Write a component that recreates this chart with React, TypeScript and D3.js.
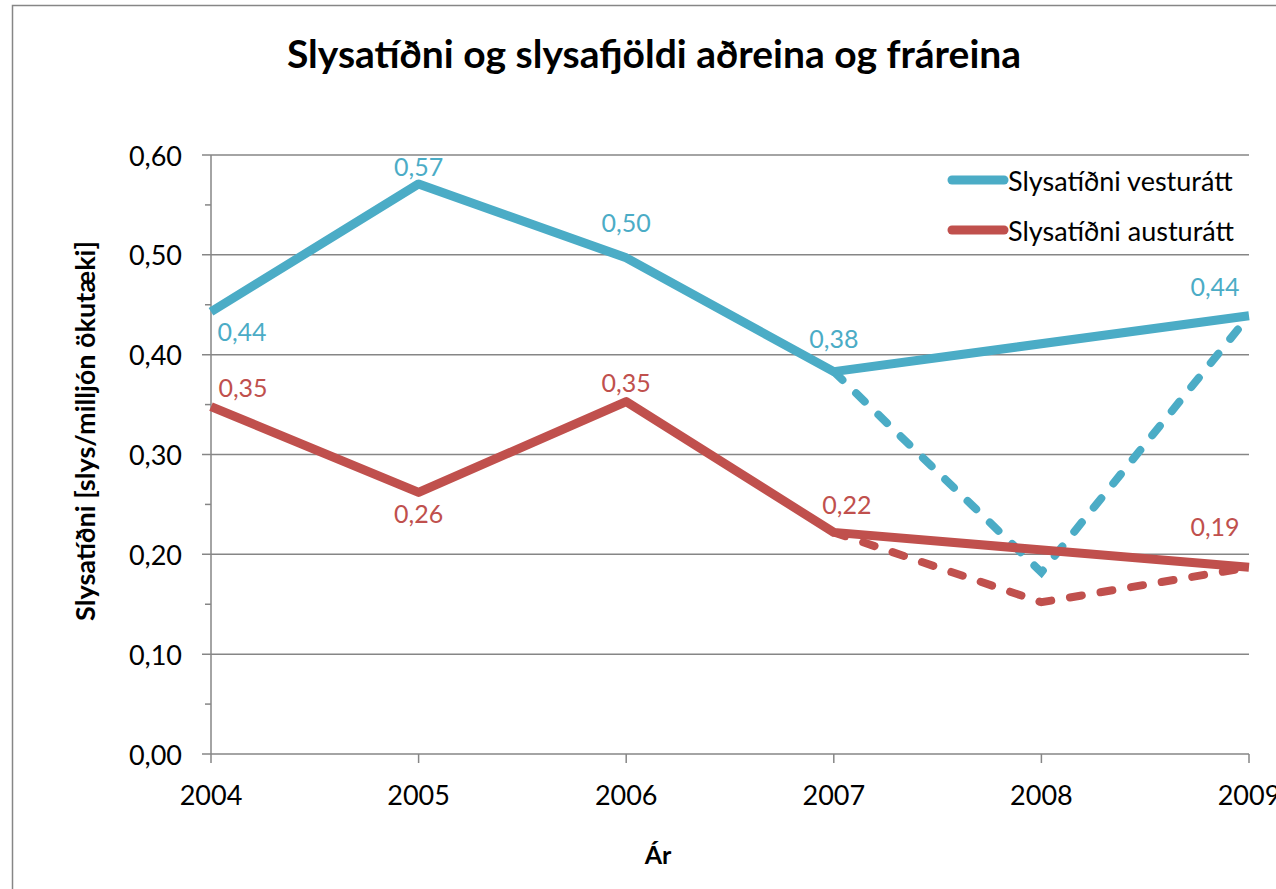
import * as d3 from "d3";

const years = [2004, 2005, 2006, 2007, 2008, 2009];
// solid lines skip 2008, dashed lines go through it
const westSolid = [0.443, 0.571, 0.497, 0.383, null, 0.439];
const westDashed = [null, null, null, 0.383, 0.182, 0.439];
const eastSolid = [0.348, 0.262, 0.353, 0.222, null, 0.187];
const eastDashed = [null, null, null, 0.222, 0.152, 0.187];
const yTicks = [0, 0.1, 0.2, 0.3, 0.4, 0.5, 0.6];
const seriesNames = ["Slysatíðni vesturátt", "Slysatíðni austurátt"];

// label offsets from the point (px)
const westLabelPos = [[31, 19], [0, -18], [0, -36], [0, -34], null, [-34, -30]];
const eastLabelPos = [[32, -20], [0, 21], [0, -20], [13, -28], null, [-34, -41]];

const BLUE = "#4BACC6";
const RED = "#C0504D";
const GRID = "#868686";
const FONT = "Lato, 'Open Sans', sans-serif";

const W = 1276;
const H = 889;

const fmt = (v: number) => d3.format(".2f")(v).replace(".", ",");

export default function App() {
  const x = d3.scaleLinear().domain([2004, 2009]).range([211, 1249]);
  const y = d3.scaleLinear().domain([0, 0.6]).range([754, 155]);

  const line = (vals: (number | null)[]) => {
    const pts = years
      .map((yr, i) => [yr, vals[i]] as [number, number | null])
      .filter((d) => d[1] != null) as [number, number][];
    return d3
      .line<[number, number]>()
      .x((d) => x(d[0]))
      .y((d) => y(d[1]))(pts) ?? "";
  };

  const minorTicks = d3.range(0.05, 0.6, 0.1);

  const labels = (vals: (number | null)[], pos: (number[] | null)[], color: string) =>
    years.map((yr, i) => {
      const v = vals[i];
      const p = pos[i];
      if (v == null || !p) return null;
      return (
        <text
          key={`${color}-${yr}`}
          x={x(yr) + p[0]}
          y={y(v) + p[1]}
          textAnchor="middle"
          dominantBaseline="central"
          fontSize={25}
          fill={color}
        >
          {fmt(v)}
        </text>
      );
    });

  return (
    <svg
      width={W}
      height={H}
      style={{ position: "absolute", left: 0, top: 0, background: "#fff" }}
      fontFamily={FONT}
    >
      <rect x={0} y={0} width={W} height={H} fill="#fff" />
      <rect x={12.5} y={5.5} width={1400} height={1000} fill="none" stroke={GRID} strokeWidth={1.5} />

      <text x={654} y={68} textAnchor="middle" fontSize={39} fontWeight="bold" fill="#000">
        Slysatíðni og slysafjöldi aðreina og fráreina
      </text>

      {/* gridlines + y ticks */}
      {yTicks.map((t) => (
        <g key={t}>
          <line x1={202} x2={1249} y1={y(t)} y2={y(t)} stroke={GRID} strokeWidth={1.5} />
          <text
            x={182}
            y={y(t)}
            textAnchor="end"
            dominantBaseline="central"
            fontSize={27}
            fill="#000"
          >
            {fmt(t)}
          </text>
        </g>
      ))}
      {minorTicks.map((t) => (
        <line key={t} x1={205} x2={211} y1={y(t)} y2={y(t)} stroke={GRID} strokeWidth={1.5} />
      ))}
      <line x1={211} x2={211} y1={155} y2={754} stroke={GRID} strokeWidth={1.5} />

      {/* x ticks */}
      {years.map((yr) => (
        <g key={yr}>
          <line x1={x(yr)} x2={x(yr)} y1={754} y2={763} stroke={GRID} strokeWidth={1.5} />
          <text x={x(yr)} y={805} textAnchor="middle" fontSize={27} fill="#000">
            {yr}
          </text>
        </g>
      ))}

      <text x={658} y={864} textAnchor="middle" fontSize={25} fontWeight="bold" fill="#000">
        Ár
      </text>
      <text
        transform={`translate(84,431) rotate(-90)`}
        textAnchor="middle"
        dominantBaseline="central"
        fontSize={27}
        fontWeight="bold"
        fill="#000"
      >
        Slysatíðni [slys/milljón ökutæki]
      </text>

      {/* lines */}
      <path d={line(westDashed)} fill="none" stroke={BLUE} strokeWidth={8} strokeDasharray="12 19" strokeLinecap="round" />
      <path d={line(eastDashed)} fill="none" stroke={RED} strokeWidth={8} strokeDasharray="12 19" strokeLinecap="round" />
      <path d={line(westSolid)} fill="none" stroke={BLUE} strokeWidth={9} strokeLinejoin="round" />
      <path d={line(eastSolid)} fill="none" stroke={RED} strokeWidth={9} strokeLinejoin="round" />

      {labels(westSolid, westLabelPos, BLUE)}
      {labels(eastSolid, eastLabelPos, RED)}

      {/* legend */}
      {seriesNames.map((name, i) => (
        <g key={name} transform={`translate(0,${180 + i * 50})`}>
          <line x1={952} x2={1004} y1={0} y2={0} stroke={i === 0 ? BLUE : RED} strokeWidth={9} strokeLinecap="round" />
          <text x={1008} y={0} dominantBaseline="central" fontSize={27} fill="#000">
            {name}
          </text>
        </g>
      ))}
    </svg>
  );
}
